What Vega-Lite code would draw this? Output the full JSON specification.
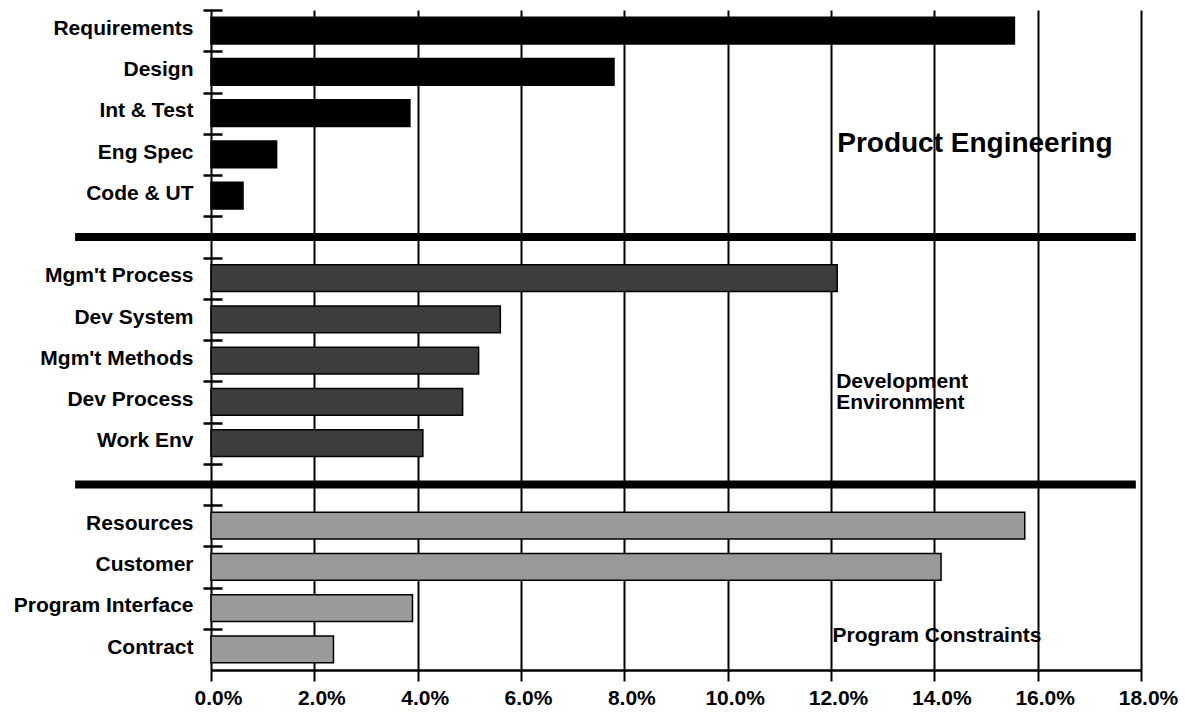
{
  "$schema": "https://vega.github.io/schema/vega-lite/v6.json",
  "width": 930,
  "height": 660,
  "autosize": {"type": "none"},
  "padding": {"left": 211, "top": 10, "right": 44, "bottom": 47},
  "background": "white",
  "config": {"view": {"stroke": null}, "font": "Liberation Sans"},
  "datasets": {
    "bars": [
      {"cat": "Requirements", "group": "Product Engineering", "x": 15.55},
      {"cat": "Design", "group": "Product Engineering", "x": 7.8},
      {"cat": "Int & Test", "group": "Product Engineering", "x": 3.85},
      {"cat": "Eng Spec", "group": "Product Engineering", "x": 1.27},
      {"cat": "Code & UT", "group": "Product Engineering", "x": 0.62},
      {"cat": "Mgm't Process", "group": "Development Environment", "x": 12.12},
      {"cat": "Dev System", "group": "Development Environment", "x": 5.6},
      {"cat": "Mgm't Methods", "group": "Development Environment", "x": 5.18},
      {"cat": "Dev Process", "group": "Development Environment", "x": 4.87},
      {"cat": "Work Env", "group": "Development Environment", "x": 4.1},
      {"cat": "Resources", "group": "Program Constraints", "x": 15.75},
      {"cat": "Customer", "group": "Program Constraints", "x": 14.13},
      {"cat": "Program Interface", "group": "Program Constraints", "x": 3.9},
      {"cat": "Contract", "group": "Program Constraints", "x": 2.37}
    ],
    "seps": [
      {"cat": "gap1", "x": -2.63, "x2": 17.9},
      {"cat": "gap2", "x": -2.63, "x2": 17.9}
    ],
    "bigLabel": [
      {"cat": "Eng Spec", "x": 12.12, "text": "Product Engineering"}
    ],
    "devLabel": [
      {"cat": "Dev Process", "x": 12.1, "text": "Development\nEnvironment"}
    ],
    "progLabel": [
      {"cat": "Contract", "x": 12.03, "text": "Program Constraints"}
    ]
  },
  "encoding": {
    "y": {
      "field": "cat",
      "type": "nominal",
      "scale": {
        "domain": ["Requirements", "Design", "Int & Test", "Eng Spec", "Code & UT", "gap1", "Mgm't Process", "Dev System", "Mgm't Methods", "Dev Process", "Work Env", "gap2", "Resources", "Customer", "Program Interface", "Contract"],
        "paddingInner": 0.35,
        "paddingOuter": 0.175
      },
      "axis": {
        "title": null,
        "domain": false,
        "offset": -11,
        "tickSize": 19,
        "tickWidth": 2.5,
        "tickColor": "black",
        "bandPosition": 0,
        "tickOffset": -7.2,
        "labelOffset": 5,
        "labelFontSize": 21,
        "labelFontWeight": "bold",
        "labelColor": "black",
        "labelPadding": 10,
        "labelExpr": "indexof(datum.label, 'gap') == 0 ? '' : datum.label",
        "grid": false
      }
    },
    "x": {
      "field": "x",
      "type": "quantitative",
      "scale": {"domain": [0, 18], "nice": false, "zero": false},
      "axis": {
        "title": null,
        "values": [0, 2, 4, 6, 8, 10, 12, 14, 16, 18],
        "labelExpr": "format(datum.value, '.1f') + '%'",
        "grid": true,
        "gridColor": "black",
        "gridWidth": 2,
        "gridOpacity": 1,
        "domainColor": "black",
        "domainWidth": 2.5,
        "tickColor": "black",
        "tickWidth": 2,
        "tickSize": 11,
        "labelFontSize": 21,
        "labelFontWeight": "bold",
        "labelColor": "black",
        "labelPadding": 6,
        "labelOffset": 7,
        "labelFlush": false,
        "labelOverlap": false
      }
    }
  },
  "layer": [
    {
      "data": {"name": "bars"},
      "mark": {"type": "bar", "stroke": "black", "strokeWidth": 1.5},
      "encoding": {
        "color": {
          "field": "group",
          "type": "nominal",
          "scale": {"domain": ["Product Engineering", "Development Environment", "Program Constraints"], "range": ["#000000", "#3d3d3d", "#9a9a9a"]},
          "legend": null
        }
      }
    },
    {
      "data": {"name": "seps"},
      "mark": {"type": "rule", "strokeWidth": 8, "color": "black"},
      "encoding": {"x2": {"field": "x2"}}
    },
    {
      "data": {"name": "bigLabel"},
      "mark": {"type": "text", "align": "left", "baseline": "alphabetic", "fontSize": 28, "fontWeight": "bold", "color": "black", "dy": -2},
      "encoding": {"text": {"field": "text"}}
    },
    {
      "data": {"name": "devLabel"},
      "mark": {"type": "text", "align": "left", "baseline": "alphabetic", "fontSize": 21, "fontWeight": "bold", "color": "black", "dy": -14, "lineBreak": "\n", "lineHeight": 21},
      "encoding": {"text": {"field": "text"}}
    },
    {
      "data": {"name": "progLabel"},
      "mark": {"type": "text", "align": "left", "baseline": "alphabetic", "fontSize": 21, "fontWeight": "bold", "color": "black", "dy": -7},
      "encoding": {"text": {"field": "text"}}
    }
  ]
}
